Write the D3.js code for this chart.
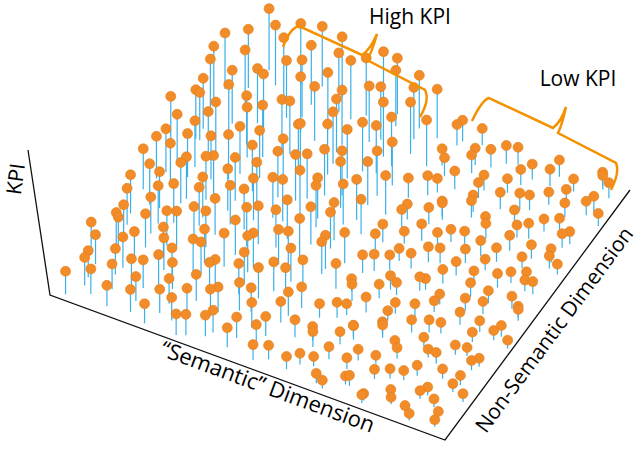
<!DOCTYPE html>
<html><head><meta charset="utf-8">
<script src="https://cdn.jsdelivr.net/npm/d3@7"></script>
<style>body{margin:0;background:#fff}</style></head>
<body><svg id="c" width="643" height="458"></svg>
<script>
const semantic = [
.03,.05,.02,.06,.04,.03,.05,.02,.06,.04,
.08,.10,.07,.11,.09,.08,.10,.07,.11,.09,
.13,.15,.12,.16,.14,.13,.15,.12,.16,.14,
.18,.20,.17,.21,.19,.18,.20,.17,.21,.19,
.23,.25,.22,.26,.24,.23,.25,.22,.26,.24,
.28,.30,.27,.31,.29,.28,.30,.27,.31,.29,
.33,.35,.32,.36,.34,.33,.35,.32,.36,.34,
.38,.40,.37,.41,.39,.38,.40,.37,.41,.39,
.43,.45,.42,.46,.44,.43,.45,.42,.46,.44,
.48,.50,.47,.51,.49,.48,.50,.47,.51,.49,
.53,.55,.52,.56,.54,.53,.55,.52,.56,.54,
.58,.60,.57,.61,.59,.58,.60,.57,.61,.59,
.63,.65,.62,.66,.64,.63,.65,.62,.66,.64,
.68,.70,.67,.71,.69,.68,.70,.67,.71,.69,
.73,.75,.72,.76,.74,.73,.75,.72,.76,.74,
.78,.80,.77,.81,.79,.78,.80,.77,.81,.79,
.83,.85,.82,.86,.84,.83,.85,.82,.86,.84,
.88,.90,.87,.91,.89,.88,.90,.87,.91,.89,
.93,.95,.92,.96,.94,.93,.95,.92,.96,.94,
.96,.98,.95,.99,.97,.96,.98,.95,.99,.97,
.055,.045,.06,.05,.065,.04,.055,.06,.05,.045,
.115,.105,.12,.11,.125,.10,.115,.12,.11,.105,
.185,.175,.19,.18,.195,.17,.185,.19,.18,.175,
.245,.235,.25,.24,.255,.23,.245,.25,.24,.235,
.31,.30,.315,.305,.32,.295,.31,.315,.30,.305,
.37,.36,.375,.365,.38,.355,.37,.375,.36,.365,
.435,.425,.44,.43,.445,.42,.435,.44,.43,.425,
.50,.49,.505,.495,.51,.485,.50,.505,.49,.495,
.60,.59,.605,.595,.61,.585,.60,.605,.59,.595,
.66,.65,.665,.655,.67,.645,.66,.665,.65,.655,
.72,.71,.725,.715,.73,.705,.72,.725,.71,.715,
.78,.77,.785,.775,.79,.765,.78,.785,.77,.775,
.84,.83,.845,.835,.85,.825,.84,.845,.83,.835,
.90,.89,.905,.895,.91,.885,.90,.905,.89,.895,
.955,.945,.96,.95,.965,.94,.955,.96,.95,.945];
const nonSemantic = [
.02,.10,.18,.27,.35,.44,.52,.61,.70,.80,
.05,.14,.22,.31,.40,.48,.57,.66,.75,.88,
.03,.12,.20,.29,.37,.46,.55,.64,.78,.92,
.08,.16,.25,.33,.42,.50,.60,.70,.83,.95,
.02,.11,.19,.28,.38,.47,.56,.68,.80,.90,
.06,.15,.24,.34,.43,.52,.62,.72,.84,.96,
.03,.12,.21,.30,.40,.50,.58,.67,.78,.90,
.07,.17,.26,.36,.45,.54,.63,.74,.85,.97,
.04,.13,.23,.32,.41,.52,.61,.71,.82,.93,
.09,.18,.27,.38,.47,.56,.65,.76,.86,.95,
.05,.15,.25,.35,.44,.55,.64,.74,.84,.94,
.04,.14,.24,.33,.43,.52,.62,.72,.83,.94,
.08,.18,.28,.37,.47,.57,.66,.77,.87,.97,
.02,.11,.21,.31,.40,.50,.60,.69,.80,.91,
.06,.16,.26,.35,.45,.55,.64,.75,.85,.95,
.03,.13,.22,.32,.42,.53,.62,.71,.81,.92,
.07,.17,.27,.38,.48,.58,.67,.76,.86,.96,
.04,.12,.23,.34,.44,.54,.63,.73,.84,.93,
.09,.19,.29,.39,.49,.59,.68,.79,.89,.98,
.03,.14,.25,.36,.46,.56,.65,.74,.85,.95,
.07,.15,.23,.31,.40,.49,.57,.66,.76,.85,
.09,.17,.26,.35,.44,.53,.61,.71,.82,.96,
.04,.13,.21,.30,.39,.48,.57,.66,.77,.89,
.07,.16,.24,.33,.43,.51,.61,.72,.85,.97,
.02,.10,.19,.29,.38,.47,.57,.67,.79,.91,
.05,.14,.22,.32,.41,.50,.60,.70,.81,.93,
.08,.18,.27,.37,.46,.55,.65,.75,.87,.97,
.03,.12,.21,.31,.40,.50,.59,.69,.80,.91,
.07,.16,.26,.36,.45,.55,.65,.75,.86,.96,
.03,.12,.22,.31,.41,.51,.60,.70,.80,.90,
.06,.15,.25,.34,.44,.54,.63,.73,.83,.94,
.02,.11,.20,.30,.39,.49,.58,.68,.79,.89,
.05,.14,.24,.33,.43,.53,.62,.72,.82,.92,
.02,.10,.19,.28,.38,.48,.57,.67,.77,.88,
.06,.16,.27,.37,.47,.56,.66,.76,.87,.97];
const kpi = [
33,38,44,45,55,58,62,70,72,78,
36,37,47,52,52,62,66,68,76,84,
30,40,44,50,56,60,62,72,78,86,
35,42,43,52,58,58,68,70,82,88,
28,36,45,48,52,60,66,74,80,85,
33,38,46,50,58,62,64,76,82,86,
30,38,42,52,55,58,66,72,76,84,
32,40,45,50,56,64,66,74,80,82,
28,36,44,48,54,60,66,70,78,80,
25,30,40,46,52,58,62,68,74,76,
20,25,30,36,44,50,56,62,66,70,
18,22,20,24,26,22,25,28,26,30,
14,18,16,20,22,18,24,20,26,24,
12,16,20,14,18,22,20,24,22,26,
15,12,18,20,16,22,18,24,20,25,
10,14,16,18,15,20,22,18,24,22,
12,15,13,18,20,16,22,20,18,24,
10,12,16,14,18,20,16,22,20,18,
12,14,12,16,18,15,20,18,22,20,
10,12,14,12,16,18,15,20,18,22,
40,42,48,52,58,60,66,70,76,80,
36,44,48,54,58,62,68,72,80,88,
32,40,46,50,55,62,64,72,78,86,
34,38,46,52,56,62,68,74,82,86,
30,36,44,48,56,60,66,70,78,84,
30,36,44,50,54,60,64,72,78,82,
30,34,42,48,54,58,64,70,76,80,
22,28,34,42,48,54,58,64,70,74,
16,20,22,18,24,26,22,28,24,30,
14,18,16,22,20,18,24,22,26,24,
12,16,18,16,20,22,18,24,22,26,
12,14,16,18,16,20,20,22,24,22,
10,14,12,16,18,16,20,18,22,24,
10,12,14,14,16,18,16,20,18,22,
10,12,12,14,16,16,18,18,20,20];

const O=[50,295], S=[395,145], N=[185,-250];
const su=d3.scaleLinear().domain([0,1]).range([0,1]);
const sv=d3.scaleLinear().domain([0,1]).range([0,1]);
const sh=d3.scaleLinear().domain([0,100]).range([0,70]);
const proj=(u,v)=>[O[0]+su(u)*S[0]+sv(v)*N[0], O[1]+su(u)*S[1]+sv(v)*N[1]];
const svg=d3.select("#c");
svg.append("path").attr("d",d3.line()([[28,150],O,proj(1,0),proj(1,1)])).attr("fill","none").attr("stroke","#111").attr("stroke-width",1.3);

const pts=semantic.map((u,i)=>({b:proj(u,nonSemantic[i]),h:sh(kpi[i])}));
pts.sort((a,b)=>a.b[1]-b.b[1]);
const g=svg.append("g");
pts.forEach(p=>{
  g.append("line").attr("x1",p.b[0]).attr("y1",p.b[1]).attr("x2",p.b[0]).attr("y2",p.b[1]-p.h).attr("stroke","#3ab0e8").attr("stroke-width",1.2);
  g.append("circle").attr("cx",p.b[0]).attr("cy",p.b[1]-p.h).attr("r",5).attr("fill","#f28c28").attr("stroke","#e07d1c").attr("stroke-width",0.6);
});

const bc="#f39200";
svg.append("path").attr("d","M283,47 Q290,28 299,26 L362,55 Q370,50 377,34 Q372,52 367,60 L425,90 Q430,100 420,117").attr("fill","none").attr("stroke",bc).attr("stroke-width",2.5);
svg.append("path").attr("d","M472,121 Q482,100 489,98 L553,128 Q561,122 566,107 Q562,125 558,133 L616,163 Q620,172 611,190").attr("fill","none").attr("stroke",bc).attr("stroke-width",2.5);

const F="'Open Sans',sans-serif";
const T=(s,tr,txt)=>svg.append("text").attr("transform",tr).attr("text-anchor","middle").attr("font-family",F).attr("font-size",s).attr("fill","#000").text(txt);
T(21,"translate(410,24)","High KPI");
T(21,"translate(578,86)","Low KPI");
T(21,"translate(23,180) rotate(-82)","KPI");
T(22,"translate(265,394) rotate(20.2)","“Semantic” Dimension");
T(21,"translate(560,334) rotate(-53.5)","Non-Semantic Dimension");
</script></body></html>
